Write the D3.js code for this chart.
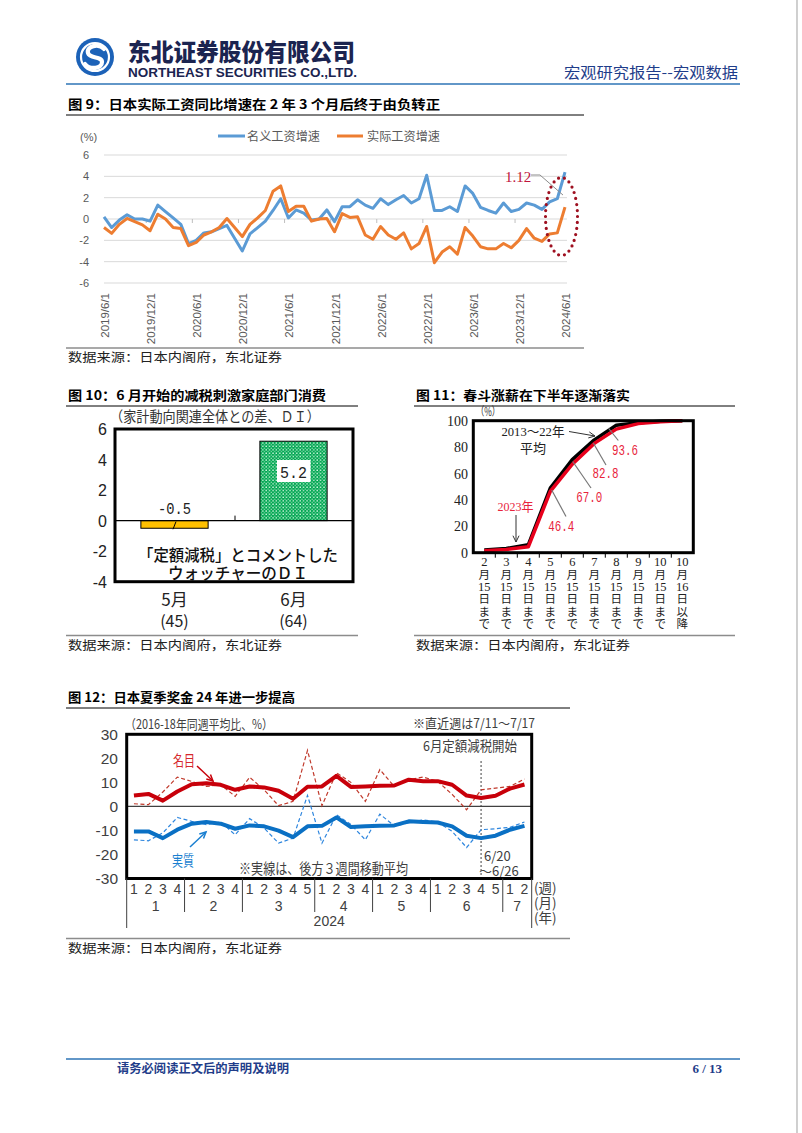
<!DOCTYPE html>
<html><head><meta charset="utf-8">
<script src="https://cdn.jsdelivr.net/npm/d3@7"></script>
<style>body{margin:0;background:#fff}svg{display:block}</style>
</head><body>
<svg id="page" width="802" height="1133"></svg>
<script>
// ---------------- DATA ----------------
// Fig 9: monthly YoY wage growth 2019/6 .. 2024/6
const fig9TickLabels = ["2019/6/1","2019/12/1","2020/6/1","2020/12/1","2021/6/1","2021/12/1","2022/6/1","2022/12/1","2023/6/1","2023/12/1","2024/6/1"];
const fig9YTicks = [-6,-4,-2,0,2,4,6];
const fig9Nominal = [0.2,-0.8,-0.1,0.4,0.0,0.0,-0.2,1.3,0.7,0.1,
  -0.5,-2.3,-2.0,-1.3,-1.2,-0.9,-0.6,-1.8,-3.0,-1.4,
  -0.8,-0.2,0.8,1.9,0.1,0.85,0.55,-0.1,0.0,0.85,
  -0.25,1.15,1.15,1.8,1.3,1.0,1.9,1.35,1.8,2.2,
  1.5,1.9,4.1,0.8,0.8,1.15,0.7,3.1,2.4,1.1,
  0.8,0.55,1.5,0.7,0.9,1.5,1.3,0.9,1.6,1.9,4.4];
const fig9Real = [-0.8,-1.35,-0.5,0.05,-0.25,-0.55,-1.1,0.45,0.0,-0.8,
  -0.9,-2.5,-2.2,-1.5,-1.2,-0.8,0.05,-0.8,-1.65,-0.5,
  0.1,0.8,2.6,3.1,0.7,1.2,1.2,-0.2,0.0,0.05,
  -1.2,0.5,0.15,0.2,-1.5,-1.9,-0.7,-1.5,-1.9,-1.3,
  -2.8,-2.3,-0.7,-4.1,-3.1,-2.6,-3.3,-0.8,-1.6,-2.6,
  -2.8,-2.8,-2.3,-2.7,-2.0,-0.9,-1.8,-2.1,-1.4,-1.3,1.12];
const fig9Series = ["名义工资增速","实际工资增速"];

// Fig 10
const fig10Categories = ["5月","6月"];
const fig10Counts = ["(45)","(64)"];
const fig10Values = [-0.5, 5.2];
const fig10YTicks = [-4,-2,0,2,4,6];

// Fig 11
const fig11Categories = [["2","月","15","日","ま","で"],["3","月","15","日","ま","で"],["4","月","15","日","ま","で"],["5","月","15","日","ま","で"],["6","月","15","日","ま","で"],["7","月","15","日","ま","で"],["8","月","15","日","ま","で"],["9","月","15","日","ま","で"],["10","月","15","日","ま","で"],["10","月","16","日","以","降"]];
const fig11Avg = [2.0,3.2,6.0,49.0,70.5,85.5,96.5,98.5,99.5,100];
const fig11Y2023 = [1.5,2.5,4.5,46.4,67.0,82.8,93.6,97.8,99.2,100];
const fig11YTicks = [0,20,40,60,80,100];

// Fig 12
const fig12MonthLabels = ["1","2","3","4","5","6","7"];
const fig12WeeksPerMonth = [4,4,5,4,4,5,2];
const fig12WeekLabels = ["1","2","3","4","1","2","3","4","1","2","3","4","5","1","2","3","4","1","2","3","4","1","2","3","4","5","1","2"];
const fig12NominalWeekly = [1.1,0.7,6.0,12.2,10.4,8.3,9.0,4.2,12.1,6.9,0.3,2.1,23.3,0.3,14.0,10.0,2.1,15.3,8.3,11.1,12.2,10.4,5.0,-1.4,6.9,7.6,8.3,11.4];
const fig12NominalMA = [4.5,5.2,2.4,6.2,9.2,9.6,9.0,6.9,8.3,7.9,6.5,3.2,8.2,8.3,12.7,8.1,8.3,8.6,8.7,11.1,10.5,10.5,9.0,4.5,3.5,4.4,7.4,9.1];
const fig12RealWeekly = [-13.9,-14.3,-11.0,-4.6,-6.2,-7.6,-6.5,-11.8,-5.1,-9.0,-15.3,-13.2,4.6,-15.3,-3.5,-7.5,-13.9,-3.2,-8.1,-6.9,-5.6,-6.5,-10.4,-17.1,-9.7,-9.3,-8.7,-6.5];
const fig12RealMA = [-10.4,-10.4,-13.2,-9.7,-7.2,-6.5,-7.2,-9.3,-7.9,-8.3,-10.1,-12.8,-8.3,-8.1,-4.6,-8.6,-8.3,-8.1,-7.9,-6.2,-6.5,-6.7,-8.3,-12.2,-13.2,-12.2,-9.7,-8.1];
const fig12YTicks = [-30,-20,-10,0,10,20,30];
const fig12AxisUnits = ["(週)","(月)","(年)"];

// ---------------- DRAW ----------------
const CJK = "'Noto Sans CJK SC','Noto Sans CJK JP',sans-serif";
const JP = "'Noto Sans CJK JP','Noto Sans CJK SC',sans-serif";
const svg = d3.select("#page");
svg.append("rect").attr("width",802).attr("height",1133).attr("fill","#fff");

function txt(g, x, y, s, o) {
  o = o || {};
  const t = g.append("text").attr("x",x).attr("y",y).text(s)
    .attr("font-family", o.ff || CJK).attr("font-size", o.fs || 12)
    .attr("fill", o.fill || "#000").attr("text-anchor", o.anchor || "start");
  if (o.fw) t.attr("font-weight", o.fw);
  if (o.tl) t.attr("textLength", o.tl).attr("lengthAdjust","spacingAndGlyphs");
  if (o.ls) t.attr("letter-spacing", o.ls);
  return t;
}
function line(g, x1,y1,x2,y2, stroke, w, dash) {
  const l = g.append("line").attr("x1",x1).attr("y1",y1).attr("x2",x2).attr("y2",y2)
    .attr("stroke",stroke).attr("stroke-width",w);
  if (dash) l.attr("stroke-dasharray",dash);
  return l;
}
function arrow(g, x1,y1,x2,y2, stroke, w, head) {
  line(g,x1,y1,x2,y2,stroke,w);
  const a = Math.atan2(y2-y1,x2-x1), h = head || 7, sp = 0.45;
  g.append("path").attr("d",`M${x2-h*Math.cos(a-sp)},${y2-h*Math.sin(a-sp)}L${x2},${y2}L${x2-h*Math.cos(a+sp)},${y2-h*Math.sin(a+sp)}`)
    .attr("fill","none").attr("stroke",stroke).attr("stroke-width",w);
}

// page edge
line(svg,797,0,797,1133,"#b0b0b0",1.2);

// ---- header ----
const hdr = svg.append("g");
hdr.append("circle").attr("cx",95).attr("cy",57).attr("r",19).attr("fill","#1c62b8");
hdr.append("circle").attr("cx",95).attr("cy",57).attr("r",14).attr("fill","none").attr("stroke","#fff").attr("stroke-width",2.2);
hdr.append("path").attr("d","M104,49 C99,43 86,46 88,53 C90,59 102,56 102,62 C102,69 90,70 85,64")
  .attr("fill","none").attr("stroke","#fff").attr("stroke-width",4.2).attr("stroke-linecap","round");
txt(hdr,128,61,"东北证券股份有限公司",{fs:24,fw:900,fill:"#1b2450",tl:227});
txt(hdr,128,77,"NORTHEAST SECURITIES CO.,LTD.",{ff:"'Liberation Sans',Arial,sans-serif",fs:12,fw:700,fill:"#1b2450",tl:229});
txt(hdr,738,78,"宏观研究报告--宏观数据",{fs:15,fill:"#1f3d8a",anchor:"end",tl:174});
line(hdr,66,84,740,84,"#2e75b6",1.6);

// ---- footer ----
line(svg,66,1059,740,1059,"#2e75b6",1.6);
txt(svg,117,1073,"请务必阅读正文后的声明及说明",{fs:12,fw:700,fill:"#1f3d8a",tl:172});
txt(svg,722,1073,"6 / 13",{ff:"'Liberation Serif',serif",fs:13,fw:700,fill:"#1f3d8a",anchor:"end"});

function title(x, y, s, tl, x2) {
  txt(svg,x,y,s,{fs:13,fw:700,tl:tl});
  line(svg,x-2,y+6,x2,y+6,"#000",1);
}
function source(x, y, x2) {
  line(svg,x-2,y-14,x2,y-14,"#8c8c8c",1.4);
  txt(svg,x,y,"数据来源：日本内阁府，东北证券",{fs:12.5,fill:"#222",tl:214});
}

// ================= FIG 9 =================
title(68,109,"图 9：日本实际工资同比增速在 2 年 3 个月后终于由负转正",372,584);
source(68,362,584);
{
  const g = svg.append("g");
  const x = d3.scaleLinear().domain([0,60]).range([104,565]);
  const y = d3.scaleLinear().domain([-6,6]).range([283,155]);
  fig9YTicks.forEach(v => {
    line(g,104,y(v),567,y(v),"#d9d9d9",1);
    txt(g,89,y(v)+4,String(v),{ff:"'Liberation Sans',Arial,sans-serif",fs:11,fill:"#595959",anchor:"end"});
  });
  for (let i=6;i<=60;i+=6) line(g,x(i-0.5),y(0),x(i-0.5),y(0)+4,"#bfbfbf",1);
  fig9TickLabels.forEach((s,k) => {
    const xi = x(k*6)+1;
    g.append("text").attr("transform",`translate(${xi},293) rotate(-90)`)
      .attr("text-anchor","end").attr("dominant-baseline","central")
      .attr("font-family","'Liberation Sans',Arial,sans-serif").attr("font-size",11.5).attr("fill","#595959").text(s);
  });
  txt(g,80,141,"(%)",{ff:"'Liberation Sans',Arial,sans-serif",fs:11,fill:"#595959"});
  const ln = d3.line().x((d,i)=>x(i)).y(d=>y(d));
  g.append("path").datum(fig9Nominal).attr("d",ln).attr("fill","none").attr("stroke","#5b9bd5").attr("stroke-width",3).attr("stroke-linejoin","round");
  g.append("path").datum(fig9Real).attr("d",ln).attr("fill","none").attr("stroke","#ed7d31").attr("stroke-width",3).attr("stroke-linejoin","round");
  // legend
  line(g,218,136,245,136,"#5b9bd5",3);
  txt(g,247,141,fig9Series[0],{fs:12,fill:"#595959",tl:73});
  line(g,337,136,363,136,"#ed7d31",3);
  txt(g,367,141,fig9Series[1],{fs:12,fill:"#595959",tl:73});
  // annotation
  const last = fig9Real.length-1;
  g.append("polyline").attr("points",`531,175 540,175 ${x(last)-2},${y(fig9Real[last])-12}`)
    .attr("fill","none").attr("stroke","#8c8c8c").attr("stroke-width",1);
  txt(g,505,182,fig9Real[last].toFixed(2),{ff:"'Liberation Serif',serif",fs:15,fill:"#c0143c"});
  g.append("ellipse").attr("cx",561.5).attr("cy",216.5).attr("rx",16).attr("ry",39)
    .attr("fill","none").attr("stroke","#9e1020").attr("stroke-width",3.2)
    .attr("stroke-dasharray","0,6").attr("stroke-linecap","round");
}

// ================= FIG 10 =================
title(68,400,"图 10：6 月开始的减税刺激家庭部门消费",258,358);
source(68,649.5,358);
{
  const g = svg.append("g");
  const defs = svg.append("defs");
  const pat = defs.append("pattern").attr("id","dots").attr("width",3.4).attr("height",3.4).attr("patternUnits","userSpaceOnUse");
  pat.append("rect").attr("width",3.4).attr("height",3.4).attr("fill","#00a651");
  pat.append("circle").attr("cx",1).attr("cy",1).attr("r",0.75).attr("fill","#e8fff0");
  pat.append("circle").attr("cx",2.7).attr("cy",2.7).attr("r",0.6).attr("fill","#d0f5dc");
  const L=115, R=353, T=429, B=581.7;
  const y = d3.scaleLinear().domain([-4,6]).range([B,T]);
  const x = d3.scaleBand().domain(fig10Categories).range([L,R]).padding(0);
  fig10YTicks.forEach(v => txt(g,107,y(v)+6,String(v),{ff:"'Liberation Sans',Arial,sans-serif",fs:16,fill:"#222",anchor:"end"}));
  txt(g,110,422,"（家計動向関連全体との差、ＤＩ）",{ff:JP,fs:14.5,fill:"#333",tl:210});
  const bw = x.bandwidth()*0.565;
  fig10Values.forEach((v,i) => {
    const cx = x(fig10Categories[i]) + x.bandwidth()/2;
    g.append("rect").attr("x",cx-bw/2).attr("width",bw)
      .attr("y",Math.min(y(v),y(0))).attr("height",Math.abs(y(v)-y(0)))
      .attr("fill", i===0 ? "#ffc000" : "url(#dots)").attr("stroke","#000").attr("stroke-width",1);
    txt(g,cx,606,fig10Categories[i],{ff:JP,fs:17,fill:"#222",anchor:"middle"});
    txt(g,cx,627,fig10Counts[i],{ff:JP,fs:16,fill:"#222",anchor:"middle"});
  });
  line(g,L,y(0),R,y(0),"#000",1.3);
  line(g,235,y(0)-5,235,y(0),"#000",1);
  const c0 = x(fig10Categories[0]) + x.bandwidth()/2;
  line(g,c0-1.5,y(-0.5)+1,c0+1.5,y(0)+1,"#000",1);
  txt(g,c0,514,"-0.5",{ff:"'Liberation Mono','DejaVu Sans Mono',monospace",fs:17,fill:"#222",anchor:"middle",tl:33});
  const c1 = x(fig10Categories[1]) + x.bandwidth()/2;
  g.append("rect").attr("x",c1-16.5).attr("y",460).attr("width",33.5).attr("height",22).attr("fill","#fff");
  txt(g,c1,477.5,"5.2",{ff:"'Liberation Mono','DejaVu Sans Mono',monospace",fs:17,fill:"#222",anchor:"middle",tl:27});
  txt(g,238,561,"「定額減税」とコメントした",{ff:JP,fs:16,fw:500,fill:"#111",anchor:"middle",tl:200});
  txt(g,238,579,"ウォッチャーのＤＩ",{ff:JP,fs:16,fw:500,fill:"#111",anchor:"middle",tl:140});
  g.append("rect").attr("x",L).attr("y",T).attr("width",R-L).attr("height",B-T).attr("fill","none").attr("stroke","#000").attr("stroke-width",3);
}

// ================= FIG 11 =================
title(416,400,"图 11：春斗涨薪在下半年逐渐落实",214,735);
source(416,649.5,735);
{
  const g = svg.append("g");
  const L=473.3, R=693.3, T=420.7, B=552.7;
  const y = d3.scaleLinear().domain([0,100]).range([B,T]);
  const x = d3.scaleBand().domain(d3.range(fig11Categories.length)).range([L,R]);
  const cx = i => x(i) + x.bandwidth()/2;
  fig11YTicks.forEach(v => txt(g,468,y(v)+5,String(v),{ff:"'Liberation Serif',serif",fs:14,fill:"#222",anchor:"end"}));
  txt(g,476,416,"（%）",{ff:JP,fs:12,fill:"#333",anchor:"start",tl:24});
  for (let i=1;i<fig11Categories.length;i++) line(g,x(i),B,x(i),B+5,"#000",1);
  const rows = [562,574.3,586.6,598.9,611.2,623.5];
  fig11Categories.forEach((c,i) => {
    const t = g.append("text").attr("text-anchor","middle").attr("fill","#222");
    c.forEach((s,r) => {
      const isNum = /\d/.test(s);
      t.append("tspan").attr("x",cx(i)).attr("y",rows[r]+4.3)
        .attr("font-family", isNum ? "'Liberation Serif',serif" : JP)
        .attr("font-size", isNum ? 12.5 : 11.5).text(s);
    });
  });
  const ln = d3.line().x((d,i)=>cx(i)).y(d=>y(d));
  g.append("path").datum(fig11Avg).attr("d",ln).attr("fill","none").attr("stroke","#000").attr("stroke-width",3.5).attr("stroke-linejoin","round");
  g.append("path").datum(fig11Y2023).attr("d",ln).attr("fill","none").attr("stroke","#e8001c").attr("stroke-width",3.5).attr("stroke-linejoin","round");
  g.append("rect").attr("x",L).attr("y",T).attr("width",R-L).attr("height",B-T).attr("fill","none").attr("stroke","#000").attr("stroke-width",3);
  // annotations
  txt(g,533,436,"2013～22年",{ff:"'Liberation Serif','Noto Sans CJK JP',serif",fs:13,fill:"#222",anchor:"middle",tl:63});
  txt(g,533,453,"平均",{ff:JP,fs:13,fill:"#222",anchor:"middle"});
  arrow(g,569,431.5,595,436,"#333",1,7);
  txt(g,515.5,511,"2023年",{ff:"'Liberation Serif','Noto Sans CJK JP',serif",fs:13,fill:"#e8243c",anchor:"middle",tl:36});
  arrow(g,516,515,516,542,"#333",1,7);
  const lab = [[3,561.3,531,[551.7,490],[566,516.5]],[4,589.3,501.5,[572.7,461.5],[591,488]],[5,605.5,478,[593.3,443],[606,465]],[6,625,455,[608.3,428],[618.3,440.5]]];
  lab.forEach(([i,lx,ly,p1,p2]) => {
    line(g,p1[0],p1[1],p2[0],p2[1],"#777",1.2);
    txt(g,lx,ly,fig11Y2023[i].toFixed(1),{ff:"'Liberation Mono','DejaVu Sans Mono',monospace",fs:14.5,fill:"#e8243c",anchor:"middle",tl:26});
  });
}

// ================= FIG 12 =================
title(68,702,"图 12：日本夏季奖金 24 年进一步提高",227,570);
source(68,952.5,570);
{
  const g = svg.append("g");
  const L=126.7, R=531.7, T=734.3, B=878.5;
  const y = d3.scaleLinear().domain([-30,30]).range([B,T]);
  const x = d3.scaleBand().domain(d3.range(fig12WeekLabels.length)).range([L,R]);
  const cx = i => x(i) + x.bandwidth()/2;
  const NARROW = "'Liberation Sans Narrow','Liberation Sans',Arial,sans-serif";
  fig12YTicks.forEach(v => txt(g,118,y(v)+5.5,String(v),{ff:NARROW,fs:15.5,fill:"#404040",anchor:"end"}));
  txt(g,125,729,"（2016-18年同週平均比、%）",{ff:JP,fs:13,fill:"#404040",tl:148});
  txt(g,535,727.5,"※直近週は7/11～7/17",{ff:JP,fs:13,fill:"#404040",anchor:"end",tl:122});
  txt(g,517,751,"6月定額減税開始",{ff:JP,fs:13.5,fill:"#404040",anchor:"end",tl:94});
  line(g,L,y(0),R,y(0),"#404040",1.1);
  line(g,cx(24),761,cx(24),B,"#404040",1,"2,2");
  const dt = g.append("text").attr("font-family",JP).attr("font-size",13).attr("fill","#404040");
  dt.append("tspan").attr("x",484).attr("y",861).text("6/20");
  dt.append("tspan").attr("x",479).attr("y",876).text("～6/26");
  txt(g,239,874,"※実線は、後方３週間移動平均",{ff:JP,fs:14.5,fill:"#404040",tl:169});
  const ln = d3.line().x((d,i)=>cx(i)).y(d=>y(d));
  g.append("path").datum(fig12NominalWeekly).attr("d",ln).attr("fill","none").attr("stroke","#c0392b").attr("stroke-width",1.2).attr("stroke-dasharray","4,2.5");
  g.append("path").datum(fig12RealWeekly).attr("d",ln).attr("fill","none").attr("stroke","#2e86de").attr("stroke-width",1.2).attr("stroke-dasharray","4,2.5");
  g.append("path").datum(fig12NominalMA).attr("d",ln).attr("fill","none").attr("stroke","#c8000a").attr("stroke-width",4).attr("stroke-linejoin","round");
  g.append("path").datum(fig12RealMA).attr("d",ln).attr("fill","none").attr("stroke","#0a70c4").attr("stroke-width",4).attr("stroke-linejoin","round");
  txt(g,173,765.5,"名目",{ff:JP,fs:15,fill:"#d6282e",tl:22});
  arrow(g,197,766,213,781,"#c8000a",1.5,7);
  txt(g,172,865.5,"実質",{ff:JP,fs:15,fill:"#1a7fd0",tl:22});
  arrow(g,190,847,206,832,"#1a7fd0",1.5,7);
  g.append("rect").attr("x",L).attr("y",T).attr("width",R-L).attr("height",B-T).attr("fill","none").attr("stroke","#000").attr("stroke-width",3);
  // axis labels
  fig12WeekLabels.forEach((s,i) => txt(g,cx(i),894,s,{ff:NARROW,fs:14,fill:"#404040",anchor:"middle"}));
  let acc = 0;
  line(g,L,B,L,928,"#404040",1);
  fig12WeeksPerMonth.forEach((n,m) => {
    const x0 = x(acc), x1 = acc+n < fig12WeekLabels.length ? x(acc+n) : R;
    txt(g,(x0+x1)/2,910.5,fig12MonthLabels[m],{ff:NARROW,fs:14,fill:"#404040",anchor:"middle"});
    acc += n;
    if (acc < fig12WeekLabels.length) line(g,x1,B,x1,912,"#404040",1);
  });
  line(g,R,B,R,928,"#404040",1);
  txt(g,(L+R)/2,925.5,"2024",{ff:NARROW,fs:14,fill:"#404040",anchor:"middle"});
  const ut = g.append("text").attr("font-family",JP).attr("font-size",13.5).attr("fill","#404040");
  fig12AxisUnits.forEach((s,k) => ut.append("tspan").attr("x",534).attr("y",892.5+k*15).text(s));
}
</script>
</body></html>
